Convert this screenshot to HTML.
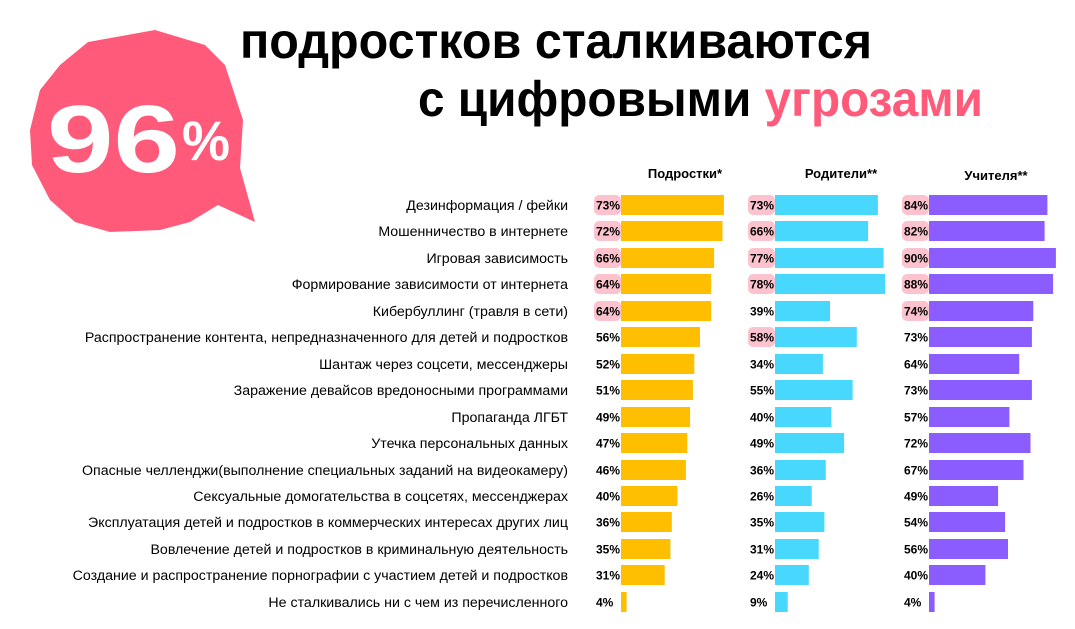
<!DOCTYPE html>
<html><head><meta charset="utf-8"><style>body{margin:0;background:#fff}svg{display:block}
.l{font-size:14.2px}.v{font-size:12px;font-weight:bold}.y{fill:#ffbe00}.c{fill:#48d8fd}.p{fill:#8b5cff}.h{fill:#fcc3cf}</style></head>
<body>
<svg width="1075" height="629" xmlns="http://www.w3.org/2000/svg" font-family="Liberation Sans, sans-serif">
<polygon fill="#ff5a7a" points="155,30 88,42 60,65 40,90 30,130 32,165 50,200 75,222 110,232 160,230 190,222 218,205 255,222 240,168 243,120 225,65 205,45"/>
<text x="47" y="172" font-size="96" font-weight="bold" fill="#fff" textLength="133" lengthAdjust="spacingAndGlyphs">96</text>
<text x="182" y="160" font-size="56" font-weight="bold" fill="#fff" textLength="48" lengthAdjust="spacingAndGlyphs">%</text>
<text x="240" y="58" font-size="50" font-weight="bold" fill="#000" textLength="632" lengthAdjust="spacingAndGlyphs">подростков сталкиваются</text>
<text x="418" y="116" font-size="50" font-weight="bold" fill="#000" textLength="565" lengthAdjust="spacingAndGlyphs">с цифровыми <tspan fill="#ff5a7a">угрозами</tspan></text>
<g font-size="13" font-weight="bold" fill="#000" text-anchor="middle">
<text x="685" y="178">Подростки*</text>
<text x="841" y="178">Родители**</text>
<text x="996" y="180">Учителя**</text>
</g>
<g fill="#000">
<g transform="translate(0,205)"><text class="l" x="568" y="5" text-anchor="end">Дезинформация / фейки</text>
<rect class="h" x="594" y="-10" width="27" height="20" rx="5"/><rect class="y" x="621" y="-10" width="102.9" height="20"/><text class="v" x="596" y="4.5">73%</text>
<rect class="h" x="748" y="-10" width="27" height="20" rx="5"/><rect class="c" x="775" y="-10" width="102.9" height="20"/><text class="v" x="750" y="4.5">73%</text>
<rect class="h" x="902" y="-10" width="27" height="20" rx="5"/><rect class="p" x="929" y="-10" width="118.4" height="20"/><text class="v" x="904" y="4.5">84%</text></g>
<g transform="translate(0,231)"><text class="l" x="568" y="5" text-anchor="end">Мошенничество в интернете</text>
<rect class="h" x="594" y="-10" width="27" height="20" rx="5"/><rect class="y" x="621" y="-10" width="101.5" height="20"/><text class="v" x="596" y="4.5">72%</text>
<rect class="h" x="748" y="-10" width="27" height="20" rx="5"/><rect class="c" x="775" y="-10" width="93.1" height="20"/><text class="v" x="750" y="4.5">66%</text>
<rect class="h" x="902" y="-10" width="27" height="20" rx="5"/><rect class="p" x="929" y="-10" width="115.6" height="20"/><text class="v" x="904" y="4.5">82%</text></g>
<g transform="translate(0,258)"><text class="l" x="568" y="5" text-anchor="end">Игровая зависимость</text>
<rect class="h" x="594" y="-10" width="27" height="20" rx="5"/><rect class="y" x="621" y="-10" width="93.1" height="20"/><text class="v" x="596" y="4.5">66%</text>
<rect class="h" x="748" y="-10" width="27" height="20" rx="5"/><rect class="c" x="775" y="-10" width="108.6" height="20"/><text class="v" x="750" y="4.5">77%</text>
<rect class="h" x="902" y="-10" width="27" height="20" rx="5"/><rect class="p" x="929" y="-10" width="126.9" height="20"/><text class="v" x="904" y="4.5">90%</text></g>
<g transform="translate(0,284)"><text class="l" x="568" y="5" text-anchor="end">Формирование зависимости от интернета</text>
<rect class="h" x="594" y="-10" width="27" height="20" rx="5"/><rect class="y" x="621" y="-10" width="90.2" height="20"/><text class="v" x="596" y="4.5">64%</text>
<rect class="h" x="748" y="-10" width="27" height="20" rx="5"/><rect class="c" x="775" y="-10" width="110" height="20"/><text class="v" x="750" y="4.5">78%</text>
<rect class="h" x="902" y="-10" width="27" height="20" rx="5"/><rect class="p" x="929" y="-10" width="124.1" height="20"/><text class="v" x="904" y="4.5">88%</text></g>
<g transform="translate(0,311)"><text class="l" x="568" y="5" text-anchor="end">Кибербуллинг (травля в сети)</text>
<rect class="h" x="594" y="-10" width="27" height="20" rx="5"/><rect class="y" x="621" y="-10" width="90.2" height="20"/><text class="v" x="596" y="4.5">64%</text>
<rect class="c" x="775" y="-10" width="55" height="20"/><text class="v" x="750" y="4.5">39%</text>
<rect class="h" x="902" y="-10" width="27" height="20" rx="5"/><rect class="p" x="929" y="-10" width="104.3" height="20"/><text class="v" x="904" y="4.5">74%</text></g>
<g transform="translate(0,337)"><text class="l" x="568" y="5" text-anchor="end">Распространение контента, непредназначенного для детей и подростков</text>
<rect class="y" x="621" y="-10" width="79" height="20"/><text class="v" x="596" y="4.5">56%</text>
<rect class="h" x="748" y="-10" width="27" height="20" rx="5"/><rect class="c" x="775" y="-10" width="81.8" height="20"/><text class="v" x="750" y="4.5">58%</text>
<rect class="p" x="929" y="-10" width="102.9" height="20"/><text class="v" x="904" y="4.5">73%</text></g>
<g transform="translate(0,364)"><text class="l" x="568" y="5" text-anchor="end">Шантаж через соцсети, мессенджеры</text>
<rect class="y" x="621" y="-10" width="73.3" height="20"/><text class="v" x="596" y="4.5">52%</text>
<rect class="c" x="775" y="-10" width="47.9" height="20"/><text class="v" x="750" y="4.5">34%</text>
<rect class="p" x="929" y="-10" width="90.2" height="20"/><text class="v" x="904" y="4.5">64%</text></g>
<g transform="translate(0,390)"><text class="l" x="568" y="5" text-anchor="end">Заражение девайсов вредоносными программами</text>
<rect class="y" x="621" y="-10" width="71.9" height="20"/><text class="v" x="596" y="4.5">51%</text>
<rect class="c" x="775" y="-10" width="77.6" height="20"/><text class="v" x="750" y="4.5">55%</text>
<rect class="p" x="929" y="-10" width="102.9" height="20"/><text class="v" x="904" y="4.5">73%</text></g>
<g transform="translate(0,417)"><text class="l" x="568" y="5" text-anchor="end">Пропаганда ЛГБТ</text>
<rect class="y" x="621" y="-10" width="69.1" height="20"/><text class="v" x="596" y="4.5">49%</text>
<rect class="c" x="775" y="-10" width="56.4" height="20"/><text class="v" x="750" y="4.5">40%</text>
<rect class="p" x="929" y="-10" width="80.4" height="20"/><text class="v" x="904" y="4.5">57%</text></g>
<g transform="translate(0,443)"><text class="l" x="568" y="5" text-anchor="end">Утечка персональных данных</text>
<rect class="y" x="621" y="-10" width="66.3" height="20"/><text class="v" x="596" y="4.5">47%</text>
<rect class="c" x="775" y="-10" width="69.1" height="20"/><text class="v" x="750" y="4.5">49%</text>
<rect class="p" x="929" y="-10" width="101.5" height="20"/><text class="v" x="904" y="4.5">72%</text></g>
<g transform="translate(0,470)"><text class="l" x="568" y="5" text-anchor="end">Опасные челленджи(выполнение специальных заданий на видеокамеру)</text>
<rect class="y" x="621" y="-10" width="64.9" height="20"/><text class="v" x="596" y="4.5">46%</text>
<rect class="c" x="775" y="-10" width="50.8" height="20"/><text class="v" x="750" y="4.5">36%</text>
<rect class="p" x="929" y="-10" width="94.5" height="20"/><text class="v" x="904" y="4.5">67%</text></g>
<g transform="translate(0,496)"><text class="l" x="568" y="5" text-anchor="end">Сексуальные домогательства в соцсетях, мессенджерах</text>
<rect class="y" x="621" y="-10" width="56.4" height="20"/><text class="v" x="596" y="4.5">40%</text>
<rect class="c" x="775" y="-10" width="36.7" height="20"/><text class="v" x="750" y="4.5">26%</text>
<rect class="p" x="929" y="-10" width="69.1" height="20"/><text class="v" x="904" y="4.5">49%</text></g>
<g transform="translate(0,522)"><text class="l" x="568" y="5" text-anchor="end">Эксплуатация детей и подростков в коммерческих интересах других лиц</text>
<rect class="y" x="621" y="-10" width="50.8" height="20"/><text class="v" x="596" y="4.5">36%</text>
<rect class="c" x="775" y="-10" width="49.4" height="20"/><text class="v" x="750" y="4.5">35%</text>
<rect class="p" x="929" y="-10" width="76.1" height="20"/><text class="v" x="904" y="4.5">54%</text></g>
<g transform="translate(0,549)"><text class="l" x="568" y="5" text-anchor="end">Вовлечение детей и подростков в криминальную деятельность</text>
<rect class="y" x="621" y="-10" width="49.4" height="20"/><text class="v" x="596" y="4.5">35%</text>
<rect class="c" x="775" y="-10" width="43.7" height="20"/><text class="v" x="750" y="4.5">31%</text>
<rect class="p" x="929" y="-10" width="79" height="20"/><text class="v" x="904" y="4.5">56%</text></g>
<g transform="translate(0,575)"><text class="l" x="568" y="5" text-anchor="end">Создание и распространение порнографии с участием детей и подростков</text>
<rect class="y" x="621" y="-10" width="43.7" height="20"/><text class="v" x="596" y="4.5">31%</text>
<rect class="c" x="775" y="-10" width="33.8" height="20"/><text class="v" x="750" y="4.5">24%</text>
<rect class="p" x="929" y="-10" width="56.4" height="20"/><text class="v" x="904" y="4.5">40%</text></g>
<g transform="translate(0,602)"><text class="l" x="568" y="5" text-anchor="end">Не сталкивались ни с чем из перечисленного</text>
<rect class="y" x="621" y="-10" width="5.6" height="20"/><text class="v" x="596" y="4.5">4%</text>
<rect class="c" x="775" y="-10" width="12.7" height="20"/><text class="v" x="750" y="4.5">9%</text>
<rect class="p" x="929" y="-10" width="5.6" height="20"/><text class="v" x="904" y="4.5">4%</text></g>
</g>
</svg>
</body></html>
